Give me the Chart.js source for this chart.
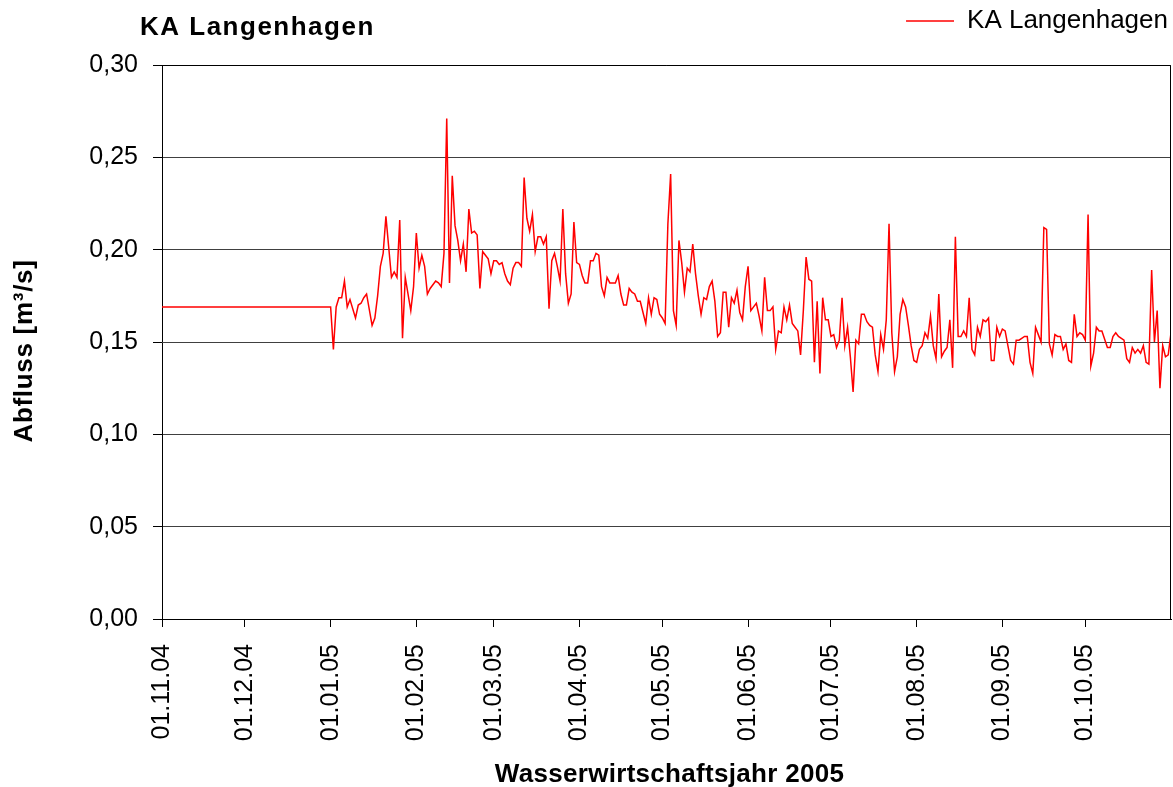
<!DOCTYPE html>
<html>
<head>
<meta charset="utf-8">
<script src="https://cdn.jsdelivr.net/npm/chart.js@4.4.1/dist/chart.umd.min.js"></script>
<style>
  html, body { margin: 0; padding: 0; background: #ffffff; }
  #wrap { width: 1173px; height: 787px; position: relative; background: #ffffff; }
</style>
</head>
<body>
<div id="wrap"><canvas id="c" width="1173" height="787"></canvas></div>
<script>
// ---------------- data ----------------
const chartTitle = 'KA Langenhagen';
const seriesLabel = 'KA Langenhagen';
const xAxisTitle = 'Wasserwirtschaftsjahr 2005';
const yAxisTitle = 'Abfluss [m³/s]';

// x positions: days since 01.11.04
const tickDays = [0, 30, 61, 92, 120, 151, 181, 212, 242, 273, 304, 334];
const tickLabels = ['01.11.04', '01.12.04', '01.01.05', '01.02.05', '01.03.05', '01.04.05',
                    '01.05.05', '01.06.05', '01.07.05', '01.08.05', '01.09.05', '01.10.05'];

const flowDays = [
  0, 61, 62, 63, 64, 65, 66, 67, 68, 70, 71, 72, 73, 74, 76, 77, 78, 79, 80, 81,
  83, 84, 85, 86, 87, 88, 90, 91, 92, 93, 94, 95, 96, 97, 98, 99, 100, 101, 102, 103,
  104, 105, 106, 107, 108, 109, 110, 111,
  112, 113, 114, 115, 116, 117, 118, 119, 120, 121, 122, 123, 124, 125, 126, 127, 128, 129, 130, 131,
  132, 133, 134, 135, 136, 137, 138, 139, 140, 141, 142, 143, 144, 145, 146, 147, 148, 149, 150, 151,
  152, 153, 154, 155, 156, 157, 158, 159, 160, 161, 162,
  163, 164, 165, 166, 167, 168, 169, 170, 171, 172, 173, 174, 175, 176, 177, 178, 179, 180, 181, 182,
  183, 184, 185, 186, 187, 188, 189, 190, 191, 192, 193, 194, 195, 196, 197, 198, 199, 200, 201, 202,
  203, 204, 205, 206, 207, 208, 209, 210, 211, 212, 213,
  214, 215, 216, 217, 218, 219, 220, 221, 222, 223, 224, 225, 226, 227, 228, 229, 230, 231, 232, 233,
  234, 235, 236, 237, 238, 239, 240, 241, 242, 243, 244, 245, 246, 247, 248, 249, 250, 251, 252, 253,
  254, 255, 256, 257, 258, 259, 260, 261, 262, 263,
  264, 265, 266, 267, 268, 269, 270, 271, 272, 273, 274, 275, 276, 277, 278, 279, 280, 281, 282, 283,
  284, 285, 286, 287, 288, 289, 290, 291, 292, 293, 294, 295, 296, 297, 298, 299, 300, 301, 302, 303,
  304, 305, 306, 307, 308, 309, 310, 311, 312, 313, 314,
  315, 316, 317, 318, 319, 320, 321, 322, 323, 324, 325, 326, 327, 328, 329, 330, 331, 332, 333, 334,
  335, 336, 337, 338, 339, 340,
  342, 343, 344, 345, 346,
  348, 349, 350, 351, 352, 353, 354, 355, 356, 357, 358, 359, 360, 361, 362, 363, 364, 365
];

const flowValues = [
  0.169, 0.169, 0.146, 0.169, 0.174, 0.174, 0.183, 0.169, 0.173, 0.163, 0.170, 0.171, 0.174, 0.176, 0.159, 0.163, 0.175, 0.191, 0.198, 0.218,
  0.185, 0.188, 0.185, 0.216, 0.152, 0.185, 0.167, 0.180, 0.209, 0.190, 0.197, 0.191, 0.176, 0.179, 0.181, 0.183, 0.182, 0.180, 0.198, 0.271,
  0.182, 0.240, 0.213, 0.205, 0.194, 0.203, 0.188, 0.222,
  0.209, 0.210, 0.208, 0.179, 0.199, 0.197, 0.195, 0.187, 0.194, 0.194, 0.192, 0.193, 0.187, 0.183, 0.181, 0.190, 0.193, 0.193, 0.191, 0.239,
  0.217, 0.210, 0.219, 0.199, 0.207, 0.207, 0.203, 0.207, 0.168, 0.194, 0.198, 0.191, 0.183, 0.222, 0.187, 0.171, 0.176, 0.215, 0.193, 0.192,
  0.186, 0.182, 0.182, 0.194, 0.194, 0.198, 0.197, 0.180, 0.175, 0.185, 0.182,
  0.182, 0.182, 0.186, 0.176, 0.170, 0.170, 0.179, 0.177, 0.176, 0.172, 0.172, 0.166, 0.160, 0.174, 0.165, 0.174, 0.173, 0.165, 0.163, 0.160,
  0.214, 0.241, 0.167, 0.159, 0.205, 0.193, 0.177, 0.190, 0.188, 0.203, 0.187, 0.175, 0.165, 0.174, 0.173, 0.180, 0.183, 0.172, 0.153, 0.155,
  0.177, 0.177, 0.158, 0.174, 0.171, 0.178, 0.166, 0.162, 0.180, 0.191, 0.167,
  0.169, 0.171, 0.164, 0.156, 0.185, 0.167, 0.167, 0.169, 0.146, 0.156, 0.155, 0.169, 0.162, 0.170, 0.160, 0.158, 0.156, 0.143, 0.167, 0.196,
  0.184, 0.183, 0.139, 0.172, 0.133, 0.174, 0.162, 0.162, 0.153, 0.154, 0.147, 0.151, 0.174, 0.148, 0.158, 0.142, 0.123, 0.151, 0.149, 0.165,
  0.165, 0.161, 0.159, 0.158, 0.143, 0.134, 0.154, 0.146, 0.162, 0.214,
  0.155, 0.134, 0.142, 0.165, 0.173, 0.169, 0.159, 0.148, 0.140, 0.139, 0.146, 0.148, 0.155, 0.152, 0.164, 0.148, 0.141, 0.176, 0.142, 0.145,
  0.147, 0.162, 0.136, 0.207, 0.153, 0.153, 0.156, 0.153, 0.174, 0.146, 0.143, 0.158, 0.153, 0.162, 0.161, 0.163, 0.140, 0.140, 0.158, 0.153,
  0.157, 0.156, 0.148, 0.140, 0.138, 0.151, 0.151, 0.152, 0.153, 0.153, 0.139,
  0.133, 0.158, 0.154, 0.150, 0.212, 0.211, 0.149, 0.143, 0.154, 0.153, 0.153, 0.146, 0.149, 0.140, 0.139, 0.165, 0.153, 0.155, 0.154, 0.151,
  0.219, 0.137, 0.144, 0.158, 0.156, 0.156,
  0.147, 0.147, 0.153, 0.155, 0.153,
  0.151, 0.141, 0.139, 0.147, 0.144, 0.146, 0.144, 0.148, 0.139, 0.138, 0.189, 0.150, 0.167, 0.125, 0.148, 0.142, 0.143, 0.155
];

// ---------------- chart ----------------
const FONT = "'Liberation Sans', Arial, Helvetica, sans-serif";
Chart.defaults.font.family = FONT;
Chart.defaults.color = '#000000';

const points = flowDays.map((d, i) => ({ x: d, y: flowValues[i] }));

const decorations = {
  id: 'decorations',
  afterDraw(chart) {
    const { ctx, chartArea: a } = chart;
    ctx.save();
    // plot frame (top and right edges)
    ctx.strokeStyle = '#000000';
    ctx.lineWidth = 1;
    ctx.beginPath();
    ctx.moveTo(Math.round(a.left) + 0.5, Math.round(a.top) + 0.5);
    ctx.lineTo(Math.round(a.right) - 0.5, Math.round(a.top) + 0.5);
    ctx.lineTo(Math.round(a.right) - 0.5, Math.round(a.bottom) + 0.5);
    ctx.stroke();

    ctx.fillStyle = '#000000';
    // chart title
    ctx.font = 'bold 26px ' + FONT;
    ctx.letterSpacing = '1.5px';
    ctx.textAlign = 'left';
    ctx.textBaseline = 'alphabetic';
    ctx.fillText(chartTitle, a.left - 22, a.top - 30);

    // x axis title
    ctx.letterSpacing = '0.3px';
    ctx.textAlign = 'center';
    ctx.fillText(xAxisTitle, (a.left + a.right) / 2 + 3, chart.height - 5);

    // y axis title
    ctx.letterSpacing = '0.7px';
    ctx.translate(32, (a.top + a.bottom) / 2 + 9);
    ctx.rotate(-Math.PI / 2);
    ctx.fillText(yAxisTitle, 0, 0);
    ctx.restore();
  }
};

new Chart(document.getElementById('c'), {
  type: 'line',
  data: {
    datasets: [{
      label: seriesLabel,
      data: points,
      borderColor: '#ff0000',
      backgroundColor: '#ff0000',
      borderWidth: 1.5,
      pointRadius: 0,
      pointHoverRadius: 0,
      tension: 0,
      fill: false
    }]
  },
  options: {
    responsive: false,
    animation: false,
    devicePixelRatio: 1,
    layout: { padding: { top: 5, right: 2, left: 0, bottom: 0 } },
    plugins: {
      legend: {
        display: true,
        position: 'top',
        align: 'end',
        labels: {
          usePointStyle: true,
          pointStyle: 'line',
          pointStyleWidth: 48,
          padding: 3,
          color: '#000000',
          font: { size: 26, family: FONT }
        }
      },
      subtitle: {
        display: true,
        text: '',
        weight: 500,
        position: 'top',
        font: { size: 10, lineHeight: 0 },
        padding: { top: 0, bottom: 21 }
      },
      title: { display: false },
      tooltip: { enabled: false }
    },
    scales: {
      x: {
        type: 'linear',
        min: 0,
        max: 365,
        afterFit(scale) { scale.height = 168; },
        afterBuildTicks(scale) { scale.ticks = tickDays.map(v => ({ value: v })); },
        ticks: {
          autoSkip: false,
          minRotation: 90,
          maxRotation: 90,
          padding: 17,
          color: '#000000',
          font: { size: 25, family: FONT },
          callback: (v) => tickLabels[tickDays.indexOf(v)]
        },
        grid: {
          display: true,
          drawOnChartArea: false,
          drawTicks: true,
          tickLength: 8,
          tickColor: '#000000',
          tickWidth: 1
        },
        border: { display: true, color: '#000000', width: 1 }
      },
      y: {
        type: 'linear',
        min: 0,
        max: 0.30,
        afterFit(scale) { scale.width = 162; },
        ticks: {
          stepSize: 0.05,
          padding: 15,
          color: '#000000',
          font: { size: 25, family: FONT },
          callback: (v) => v.toFixed(2).replace('.', ',')
        },
        grid: {
          display: true,
          color: '#404040',
          lineWidth: 1,
          drawTicks: true,
          tickLength: 9,
          tickColor: '#000000'
        },
        border: { display: true, color: '#000000', width: 1 }
      }
    }
  },
  plugins: [decorations]
});
</script>
</body>
</html>
